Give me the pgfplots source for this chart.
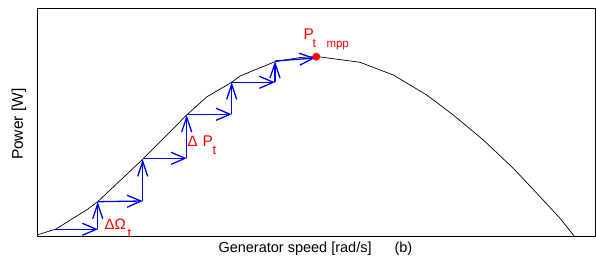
\documentclass[border=0pt]{standalone}
\usepackage{pgfplots}
\pgfplotsset{compat=1.18}
\usetikzlibrary{arrows.meta}
\usepackage{fontspec}
\setmainfont{Liberation Sans}
\newcommand{\fs}[1]{\fontsize{#1bp}{#1bp}\selectfont}
\tikzset{
  harr/.style={blue, line width=1.3bp, -{Straight Barb[length=14bp,width=12bp]}},
  varr/.style={blue, line width=1.3bp, -{Straight Barb[length=15bp,width=10bp]}},
  lab/.style={inner sep=0pt, outer sep=0pt, anchor=base west},
}
\begin{document}
\begin{tikzpicture}
\path[use as bounding box] (-37bp,-26.5bp) rectangle (559bp,236.5bp);
\begin{axis}[
  at={(0,0)}, anchor=south west,
  width=558bp, height=228.5bp, scale only axis,
  xmin=37, xmax=595, ymin=-0.5, ymax=228,
  xtick=\empty, ytick=\empty,
  axis line style={black, line width=0.9bp},
  clip=false,
]
\addplot[black, line width=0.7bp] coordinates {
(37,1) (56,7) (88,27) (97.7,34.3) (142.7,76.7) (186.7,121) (207,139.3)
(231.7,153.7) (240,160) (275,174.3) (300,178.5) (316.5,179.5) (360,173.7)
(393.3,161) (426.7,141) (453.3,121) (483.3,96) (513.3,67.7) (540,39.3)
(560,17.7) (574.5,-0.5)};
\addplot[harr] coordinates {(55,6.7) (98,6.7)};
\addplot[varr] coordinates {(97.7,6.7) (97.7,34.3)};
\addplot[harr] coordinates {(97.7,34.3) (142.7,35)};
\addplot[varr] coordinates {(142.7,35) (142.7,76.7)};
\addplot[harr] coordinates {(142.7,77.7) (186.7,77.7)};
\addplot[varr] coordinates {(186.7,77.7) (186.7,121)};
\addplot[harr] coordinates {(186.7,121.7) (231.7,121.7)};
\addplot[varr] coordinates {(231.7,121.7) (231.7,153.7)};
\addplot[harr] coordinates {(231.7,153.7) (275,153.7)};
\addplot[varr] coordinates {(275,153.7) (275,175)};
\addplot[harr] coordinates {(275,175) (315,178)};
\addplot[only marks, mark=*, red, mark size=3.7bp] coordinates {(316.3,179.3)};
% red labels
\node[lab, red] at (axis cs:303.5,196) {\fs{15.5}P};
\node[lab, red] at (axis cs:312.5,188) {\fs{12.5}t};
\node[lab, red] at (axis cs:326.5,188.5) {\fs{11.5}mpp};
\node[lab, red] at (axis cs:187.5,89) {\fs{15}Δ};
\node[lab, red] at (axis cs:202.5,89) {\fs{15.5}P};
\node[lab, red] at (axis cs:212.5,81) {\fs{13}t};
\node[lab, red] at (axis cs:104.5,7) {\fs{15}ΔΩ};
\node[lab, red] at (axis cs:127.5,-1) {\fs{13}t};
% axis labels
\node[lab] at (axis cs:218.5,-16.5) {\fs{14.5}Generator speed [rad/s]};
\node[lab] at (axis cs:394.5,-16.5) {\fs{14.5}(b)};
\node[lab, rotate=90] at (axis cs:23,76) {\fs{15.5}Power [W]};
\end{axis}
\end{tikzpicture}
\end{document}
